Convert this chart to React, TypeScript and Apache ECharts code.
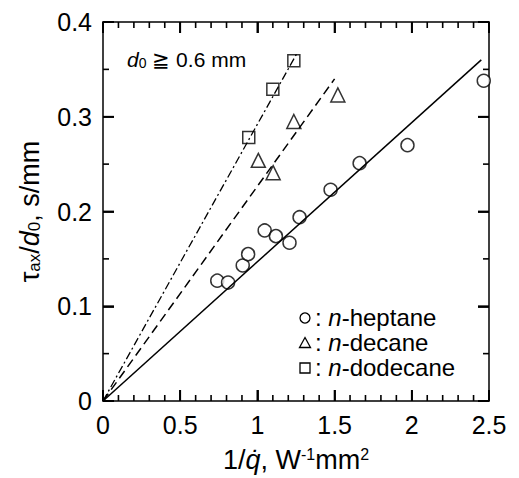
import React, { useEffect, useRef } from "react";
import * as echarts from "echarts";

const heptane: [number, number][] = [
  [0.74, 0.127], [0.81, 0.125], [0.905, 0.143], [0.94, 0.155], [1.047, 0.18],
  [1.12, 0.174], [1.208, 0.167], [1.273, 0.194], [1.474, 0.223], [1.662, 0.251],
  [1.972, 0.27], [2.466, 0.338],
];
const decane: [number, number][] = [
  [1.006, 0.254], [1.102, 0.241], [1.236, 0.295], [1.521, 0.323],
];
const dodecane: [number, number][] = [
  [0.944, 0.278], [1.1, 0.329], [1.236, 0.359],
];
const fitHeptane: [number, number][] = [[0, 0], [2.45, 0.36]];
const fitDecane: [number, number][] = [[0, 0], [1.5, 0.34]];
const fitDodecane: [number, number][] = [[0, 0], [1.26, 0.368]];

const xMajorTicks = [0, 0.5, 1, 1.5, 2, 2.5];
const xMinorTicks = [0.1, 0.2, 0.3, 0.4, 0.6, 0.7, 0.8, 0.9, 1.1, 1.2, 1.3, 1.4, 1.6, 1.7, 1.8, 1.9, 2.1, 2.2, 2.3, 2.4];
const yMajorTicks = [0, 0.1, 0.2, 0.3, 0.4];
const yMinorTicks = [0.05, 0.15, 0.25, 0.35];
const legendNames = ["heptane", "decane", "dodecane"];
const X_MIN = 0, X_MAX = 2.5, Y_MIN = 0, Y_MAX = 0.4;

const FONT = "Liberation Sans, Arial, sans-serif";

function tickSeries(name: string, points: [number, number][], dx: number, dy: number, width: number) {
  return {
    name,
    type: "custom",
    coordinateSystem: "cartesian2d",
    data: points,
    silent: true,
    clip: false,
    z: 10,
    renderItem: (_params: any, api: any) => {
      const p = api.coord([api.value(0), api.value(1)]);
      return {
        type: "line",
        shape: { x1: p[0], y1: p[1], x2: p[0] + dx, y2: p[1] + dy },
        style: { stroke: "#000", lineWidth: width },
      };
    },
  };
}

export default function App() {
  const ref = useRef<HTMLDivElement>(null);
  useEffect(() => {
    if (!ref.current) return;
    const chart = echarts.init(ref.current, null, { renderer: "svg" });
    const labelStyle = { color: "#000", fontSize: 25, fontFamily: FONT };
    const axisLine = { show: true, onZero: false, lineStyle: { color: "#000", width: 1.5 } };
    const tickSet = [
      tickSeries("tb1", xMajorTicks.map((v) => [v, Y_MIN] as [number, number]), 0, -11, 1.8),
      tickSeries("tb2", xMinorTicks.map((v) => [v, Y_MIN] as [number, number]), 0, -6, 1.6),
      tickSeries("tt1", xMajorTicks.map((v) => [v, Y_MAX] as [number, number]), 0, 11, 1.8),
      tickSeries("tt2", xMinorTicks.map((v) => [v, Y_MAX] as [number, number]), 0, 6, 1.6),
      tickSeries("tl1", yMajorTicks.map((v) => [X_MIN, v] as [number, number]), 11, 0, 1.8),
      tickSeries("tl2", yMinorTicks.map((v) => [X_MIN, v] as [number, number]), 6, 0, 1.6),
      tickSeries("tr1", yMajorTicks.map((v) => [X_MAX, v] as [number, number]), -11, 0, 1.8),
      tickSeries("tr2", yMinorTicks.map((v) => [X_MAX, v] as [number, number]), -6, 0, 1.6),
    ];
    const lgX = 305;
    const lgY = [318, 343, 368];
    const markerStyle = { fill: "#fff", stroke: "#000", lineWidth: 1.3 };
    const legendText = (i: number) => ({
      type: "text", left: lgX + 10, top: lgY[i] - 13,
      style: {
        text: "{c|: }{i|n}{c|-" + legendNames[i] + "}",
        rich: {
          c: { fontSize: 24, fontFamily: FONT, fill: "#000" },
          i: { fontSize: 24, fontFamily: FONT, fontStyle: "italic", fill: "#000" },
        },
      },
    });
    chart.setOption({
      animation: false,
      grid: { left: 103, top: 22, width: 386, height: 382 },
      xAxis: [
        {
          type: "value", min: X_MIN, max: X_MAX, interval: 0.5, position: "bottom",
          axisLine, splitLine: { show: false },
          axisTick: { show: true, inside: true, length: 11, lineStyle: { color: "#000", width: 1.8 } },
          axisLabel: { ...labelStyle, margin: 11 },
          name: "{a|1/}{q|q̇}{a|, W}{sup|-1}{a|mm}{sup|2}",
          nameLocation: "middle", nameGap: 45,
          nameTextStyle: {
            rich: {
              a: { fontSize: 27, fontFamily: FONT, color: "#000" },
              q: { fontSize: 27, fontFamily: FONT, fontStyle: "italic", color: "#000" },
              sup: { fontSize: 16, fontFamily: FONT, color: "#000", verticalAlign: "top", padding: [0, 0, 11, 0] },
            },
          },
        },
        {
          type: "value", min: X_MIN, max: X_MAX, interval: 0.5, position: "top",
          axisLine, splitLine: { show: false }, axisLabel: { show: false },
          axisTick: { show: true, inside: true, length: 11, lineStyle: { color: "#000", width: 1.8 } },
        },
      ],
      yAxis: [
        {
          type: "value", min: Y_MIN, max: Y_MAX, interval: 0.1, position: "left",
          axisLine, splitLine: { show: false },
          axisTick: { show: true, inside: true, length: 11, lineStyle: { color: "#000", width: 1.8 } },
          axisLabel: { ...labelStyle, margin: 11 },
          name: "{a|τ}{sub|ax}{a|/}{i|d}{sub|0}{a|, s/mm}",
          nameLocation: "middle", nameGap: 60, nameRotate: 90,
          nameTextStyle: {
            rich: {
              a: { fontSize: 27, fontFamily: FONT, color: "#000" },
              i: { fontSize: 27, fontFamily: FONT, fontStyle: "italic", color: "#000" },
              sub: { fontSize: 17, fontFamily: FONT, color: "#000", verticalAlign: "bottom", padding: [10, 0, 0, 0] },
            },
          },
        },
        {
          type: "value", min: Y_MIN, max: Y_MAX, interval: 0.1, position: "right",
          axisLine, splitLine: { show: false }, axisLabel: { show: false },
          axisTick: { show: true, inside: true, length: 11, lineStyle: { color: "#000", width: 1.8 } },
        },
      ],
      graphic: [
        {
          type: "text", left: 127, top: 49,
          style: {
            text: "{i|d}{s|0}{t| ≧ 0.6 mm}",
            rich: {
              i: { fontSize: 21, fontFamily: FONT, fontStyle: "italic", fill: "#000" },
              s: { fontSize: 14, fontFamily: FONT, fill: "#000", verticalAlign: "bottom", padding: [7, 0, 0, 0] },
              t: { fontSize: 21, fontFamily: FONT, fill: "#000" },
            },
          },
        },
        { type: "circle", shape: { cx: lgX, cy: lgY[0], r: 5 }, style: markerStyle },
        {
          type: "polygon",
          shape: { points: [[lgX, lgY[1] - 5.5], [lgX + 5.5, lgY[1] + 4.5], [lgX - 5.5, lgY[1] + 4.5]] },
          style: markerStyle,
        },
        { type: "rect", shape: { x: lgX - 5, y: lgY[2] - 5, width: 10, height: 10 }, style: markerStyle },
        legendText(0),
        legendText(1),
        legendText(2),
      ],
      series: [
        ...tickSet,
        {
          name: "fitHeptane", type: "line", data: fitHeptane, symbol: "none",
          lineStyle: { color: "#000", width: 1.5, type: "solid" }, silent: true,
        },
        {
          name: "fitDecane", type: "line", data: fitDecane, symbol: "none",
          lineStyle: { color: "#000", width: 1.5, type: [9, 5] }, silent: true,
        },
        {
          name: "fitDodecane", type: "line", data: fitDodecane, symbol: "none",
          lineStyle: { color: "#000", width: 1.3, type: [8, 3, 2, 3] }, silent: true,
        },
        {
          name: "n-heptane", type: "scatter", data: heptane, symbol: "circle", symbolSize: 13,
          itemStyle: { color: "#fff", borderColor: "#000", borderWidth: 1.5 },
        },
        {
          name: "n-decane", type: "scatter", data: decane, symbol: "triangle", symbolSize: 14,
          itemStyle: { color: "#fff", borderColor: "#000", borderWidth: 1.5 },
        },
        {
          name: "n-dodecane", type: "scatter", data: dodecane, symbol: "rect", symbolSize: 12,
          itemStyle: { color: "#fff", borderColor: "#000", borderWidth: 1.5 },
        },
      ],
    });
    return () => chart.dispose();
  }, []);
  return <div ref={ref} style={{ width: 519, height: 478, position: "absolute", left: 0, top: 0 }} />;
}
